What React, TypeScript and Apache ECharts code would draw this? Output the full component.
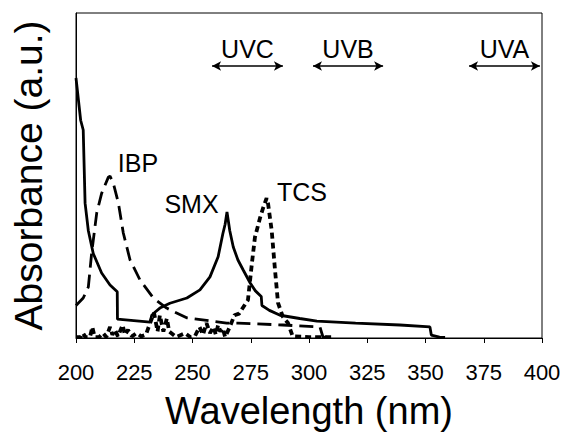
import React, { useEffect, useRef } from "react";
import * as echarts from "echarts";

// Wavelength (nm) and absorbance (a.u., 0–1 of plot height)
const smxWl = [200, 202, 203.1, 203.9, 205.3, 207.4, 211, 214.6, 217.7, 217.8, 231.8, 232.5, 234, 236, 240.3, 247.6, 253.2, 257.5, 261, 263, 264, 264.8, 266, 267.5, 269.5, 271.7, 274.7, 277, 279.5, 279.8, 283, 287.6, 296, 303.4, 320, 339, 351.9, 352.5, 356, 358.4];
const smxAbs = [0.8, 0.67, 0.64, 0.415, 0.33, 0.26, 0.2, 0.163, 0.142, 0.058, 0.049, 0.07, 0.08, 0.092, 0.107, 0.123, 0.148, 0.188, 0.25, 0.32, 0.35, 0.388, 0.33, 0.28, 0.24, 0.21, 0.17, 0.145, 0.128, 0.1, 0.085, 0.07, 0.06, 0.052, 0.046, 0.04, 0.034, 0.009, 0.003, 0.002];

const ibpWl = [200, 203.1, 205.3, 206.7, 208.9, 211, 213.9, 214.6, 216, 218.2, 220.3, 223.2, 227.5, 233.2, 238.9, 247.5, 264.7, 269.5, 288.8, 304.7, 306, 308];
const ibpAbs = [0.1, 0.123, 0.157, 0.26, 0.385, 0.445, 0.495, 0.498, 0.477, 0.415, 0.323, 0.24, 0.178, 0.123, 0.092, 0.062, 0.046, 0.046, 0.04, 0.034, 0.003, 0.003];

const tcsWl = [200, 202, 203, 204, 206, 207, 208, 210, 211.6, 213, 214.6, 215.6, 216.7, 218, 220, 221, 222.3, 224, 226, 228, 230, 232, 233.5, 235, 236, 237.5, 239, 240, 243, 246.8, 249, 251, 253, 254.5, 256, 257.5, 259, 260, 261, 262, 263, 264, 266, 268, 270, 273.8, 275.5, 276.8, 279, 280.3, 281.8, 282.4, 284, 285.4, 286.7, 288.8, 291, 293, 300, 311];
const tcsAbs = [0.003, 0.003, 0.015, 0.003, 0.003, 0.034, 0.003, 0.003, 0.015, 0.003, 0.034, 0.01, 0.025, 0.005, 0.04, 0.01, 0.025, 0.005, 0.015, 0.005, 0.01, 0.05, 0.077, 0.02, 0.07, 0.02, 0.06, 0.02, 0.003, 0.015, 0.003, 0.005, 0.034, 0.01, 0.046, 0.015, 0.034, 0.01, 0.04, 0.02, 0.03, 0.003, 0.034, 0.07, 0.075, 0.117, 0.23, 0.31, 0.37, 0.4, 0.43, 0.415, 0.33, 0.21, 0.108, 0.065, 0.046, 0.005, 0.003, 0.003];

const xTicks = [200, 225, 250, 275, 300, 325, 350, 375, 400];
const uvNames = ["UVC", "UVB", "UVA"];
const uvFrom = [258.4, 301.7, 368.7];
const uvTo = [288.8, 331.8, 399.1];
const uvLevel = 0.837;

const FONT = "'Liberation Sans', Arial, sans-serif";

const zip = (a: number[], b: number[]) => a.map((v, i) => [v, b[i]]);

export default function App() {
  const ref = useRef<HTMLDivElement>(null);
  useEffect(() => {
    if (!ref.current) return;
    const chart = echarts.init(ref.current, undefined, { renderer: "svg" });
    const lineBase = { type: "line", showSymbol: false, symbol: "none", silent: true, smooth: false };
    chart.setOption({
      animation: false,
      backgroundColor: "#fff",
      textStyle: { fontFamily: FONT },
      grid: { left: 76, right: 24, top: 13, bottom: 102, show: true, borderColor: "#000", borderWidth: 1, backgroundColor: "transparent" },
      xAxis: {
        type: "value",
        min: xTicks[0],
        max: xTicks[xTicks.length - 1],
        interval: 25,
        name: "Wavelength (nm)",
        nameLocation: "middle",
        nameGap: 54,
        nameTextStyle: { fontSize: 38, color: "#000", fontFamily: FONT },
        axisLine: { lineStyle: { color: "#000", width: 1 } },
        axisTick: { show: true, length: 5, lineStyle: { color: "#000" } },
        axisLabel: { fontSize: 22, color: "#000", margin: 23, fontFamily: FONT },
        splitLine: { show: false },
      },
      yAxis: {
        type: "value",
        min: 0,
        max: 1,
        name: "Absorbance (a.u.)",
        nameLocation: "middle",
        nameRotate: 90,
        nameGap: 28,
        nameTextStyle: { fontSize: 39, color: "#000", fontFamily: FONT },
        axisLine: { show: true, lineStyle: { color: "#000", width: 1 } },
        axisTick: { show: false },
        axisLabel: { show: false },
        splitLine: { show: false },
      },
      series: [
        {
          ...lineBase,
          name: "SMX",
          data: zip(smxWl, smxAbs),
          lineStyle: { color: "#000", width: 2.8, type: "solid" },
          markLine: {
            silent: true,
            symbol: ["arrow", "arrow"],
            symbolSize: [7, 9],
            lineStyle: { color: "#000", width: 1.5, type: "solid" },
            label: { show: true, position: "middle", formatter: "{b}", fontSize: 25, color: "#000", fontFamily: FONT, distance: 4 },
            data: uvNames.map((n, i) => [
              { name: n, coord: [uvFrom[i], uvLevel] },
              { coord: [uvTo[i], uvLevel] },
            ]),
          },
        },
        {
          ...lineBase,
          name: "IBP",
          data: zip(ibpWl, ibpAbs),
          lineStyle: { color: "#000", width: 2.8, type: [14, 7] },
        },
        {
          ...lineBase,
          name: "TCS",
          data: zip(tcsWl, tcsAbs),
          lineStyle: { color: "#000", width: 3.8, type: [6, 4] },
        },
      ],
      graphic: [
        { type: "text", x: 138, y: 162.5, style: { text: "IBP", fontSize: 25, fill: "#000", fontFamily: FONT, align: "center", verticalAlign: "middle" } },
        { type: "text", x: 191.5, y: 204, style: { text: "SMX", fontSize: 25, fill: "#000", fontFamily: FONT, align: "center", verticalAlign: "middle" } },
        { type: "text", x: 302, y: 192, style: { text: "TCS", fontSize: 25, fill: "#000", fontFamily: FONT, align: "center", verticalAlign: "middle" } },
      ],
    });
    return () => chart.dispose();
  }, []);
  return <div ref={ref} style={{ width: 566, height: 440, position: "absolute", left: 0, top: 0 }} />;
}
